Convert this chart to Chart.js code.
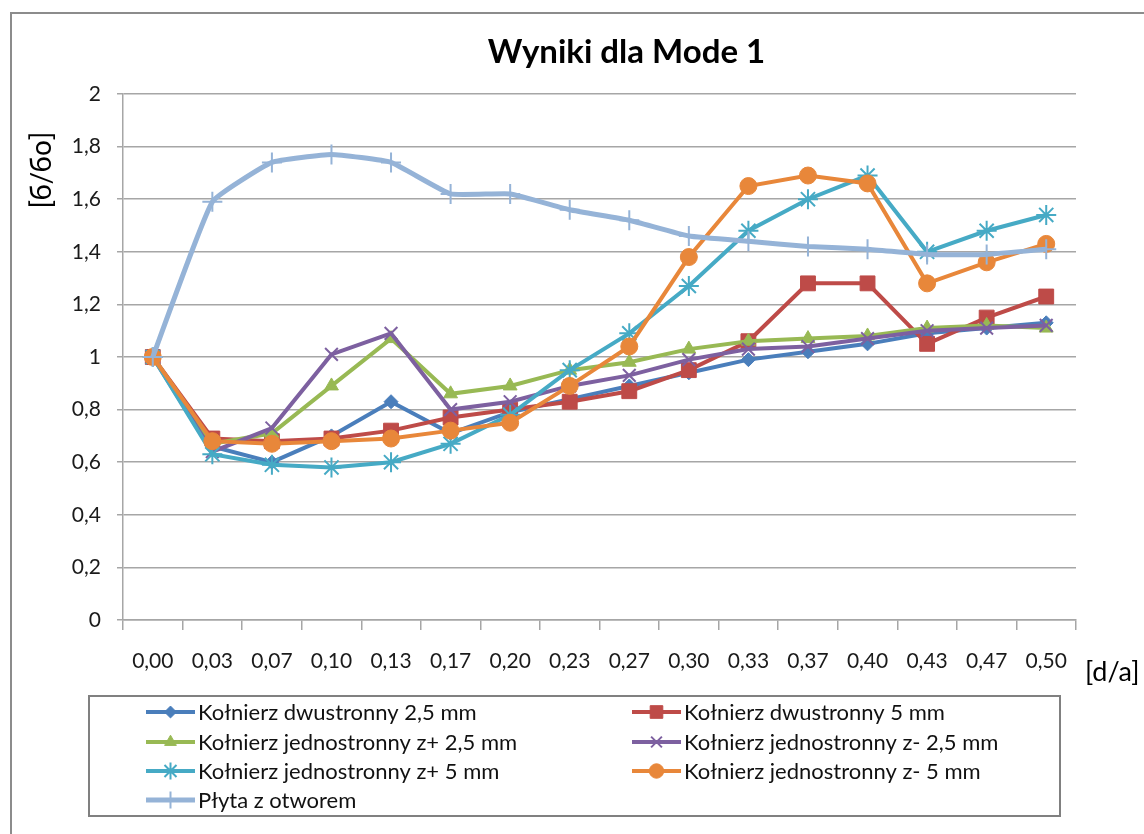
<!DOCTYPE html>
<html lang="pl">
<head>
<meta charset="UTF-8">
<title>Wyniki dla Mode 1</title>
<script src="https://cdn.jsdelivr.net/npm/chart.js"></script>
<style>
  html, body { margin: 0; padding: 0; background: #fff; }
  #wrap { width: 1144px; height: 834px; position: relative; }
</style>
</head>
<body>
<div id="wrap"><canvas id="myChart"></canvas></div>
<script>
// kategorie osi X [d/a]
const labels = ['0,00', '0,03', '0,07', '0,10', '0,13', '0,17', '0,20', '0,23',
                '0,27', '0,30', '0,33', '0,37', '0,40', '0,43', '0,47', '0,50'];

// serie [б/бo]
const dwu25  = [1.00, 0.66, 0.60, 0.70, 0.83, 0.71, 0.79, 0.84, 0.89, 0.94, 0.99, 1.02, 1.05, 1.09, 1.11, 1.13];
const dwu5   = [1.00, 0.69, 0.68, 0.69, 0.72, 0.77, 0.80, 0.83, 0.87, 0.95, 1.06, 1.28, 1.28, 1.05, 1.15, 1.23];
const zp25   = [1.00, 0.67, 0.71, 0.89, 1.07, 0.86, 0.89, 0.95, 0.98, 1.03, 1.06, 1.07, 1.08, 1.11, 1.12, 1.11];
const zm25   = [1.00, 0.64, 0.73, 1.01, 1.09, 0.80, 0.83, 0.89, 0.93, 0.99, 1.03, 1.04, 1.07, 1.10, 1.11, 1.12];
const zp5    = [1.00, 0.63, 0.59, 0.58, 0.60, 0.67, 0.78, 0.95, 1.09, 1.27, 1.48, 1.60, 1.69, 1.40, 1.48, 1.54];
const zm5    = [1.00, 0.68, 0.67, 0.68, 0.69, 0.72, 0.75, 0.89, 1.04, 1.38, 1.65, 1.69, 1.66, 1.28, 1.36, 1.43];
const plyta  = [1.00, 1.59, 1.74, 1.77, 1.74, 1.62, 1.62, 1.56, 1.52, 1.46, 1.44, 1.42, 1.41, 1.39, 1.39, 1.41];

const seriesNames = [
  'Kołnierz dwustronny 2,5 mm',
  'Kołnierz dwustronny 5 mm',
  'Kołnierz jednostronny z+ 2,5 mm',
  'Kołnierz jednostronny z- 2,5 mm',
  'Kołnierz jednostronny z+ 5 mm',
  'Kołnierz jednostronny z- 5 mm',
  'Płyta z otworem'
];
const seriesData = [dwu25, dwu5, zp25, zm25, zp5, zm5, plyta];

const colors  = ['#4a7ebb', '#be4b48', '#98b954', '#7d60a0', '#46aac5', '#e8873a', '#95b3d7'];
const markers = ['rectRot', 'rect', 'triangle', 'crossRot', 'star', 'circle', 'cross'];
const radii   = [7, 10.5, 8, 9, 10, 8.5, 10];

const FONT = 'Lato, "Open Sans", "Liberation Sans", sans-serif';
const GRID = '#a6a6a6';

const datasets = seriesData.map((d, i) => ({
  label: seriesNames[i],
  data: d,
  borderColor: colors[i],
  backgroundColor: colors[i],
  borderWidth: i === 6 ? 5 : 4,
  pointStyle: markers[i],
  pointRadius: radii[i],
  pointBorderWidth: (markers[i] === 'crossRot' || markers[i] === 'star' || markers[i] === 'cross') ? 2 : 1,
  pointBorderColor: colors[i],
  pointBackgroundColor: colors[i],
  tension: i === 6 ? 0.12 : 0,
  order: seriesData.length - i
}));

// tytuły, ramka i legenda (2 kolumny jak w Excelu)
const extras = {
  id: 'extras',
  beforeDraw(chart) {
    const ctx = chart.ctx;
    ctx.save();
    ctx.strokeStyle = '#8c8c8c';
    ctx.lineWidth = 2;
    ctx.strokeRect(11, 13, chart.width + 20, chart.height + 20);
    ctx.restore();
  },
  afterDraw(chart) {
    const ctx = chart.ctx;
    const a = chart.chartArea;
    ctx.save();

    // tytuł
    ctx.fillStyle = '#000';
    ctx.font = 'bold 33px ' + FONT;
    ctx.textAlign = 'center';
    ctx.textBaseline = 'middle';
    ctx.fillText('Wyniki dla Mode 1', (a.left + a.right) / 2 + 27, 52);

    // tytuł osi Y
    ctx.save();
    ctx.translate(42, a.top + 76);
    ctx.rotate(-Math.PI / 2);
    ctx.font = '28px ' + FONT;
    ctx.fillText('[б/бo]', 0, 0);
    ctx.restore();

    // tytuł osi X
    ctx.font = '27px ' + FONT;
    ctx.textAlign = 'left';
    ctx.fillText('[d/a]', a.right + 9, a.bottom + 52);

    // legenda
    const bx = a.left - 34, by = a.bottom + 76, bw = 971, bh = 120;
    ctx.strokeStyle = '#808080';
    ctx.lineWidth = 2;
    ctx.strokeRect(bx, by, bw, bh);
    const colX = [bx + 57, bx + 543];
    const rowY = [by + 16, by + 46, by + 75, by + 104];
    ctx.font = '22px ' + FONT;
    ctx.textBaseline = 'middle';
    chart.data.datasets.forEach((ds, i) => {
      const x = colX[i % 2], y = rowY[Math.floor(i / 2)];
      ctx.strokeStyle = ds.borderColor;
      ctx.lineWidth = ds.borderWidth;
      ctx.beginPath();
      ctx.moveTo(x, y);
      ctx.lineTo(x + 49, y);
      ctx.stroke();
      if (Chart.helpers && Chart.helpers.drawPoint) {
        ctx.fillStyle = ds.pointBackgroundColor;
        ctx.strokeStyle = ds.pointBorderColor;
        ctx.lineWidth = ds.pointBorderWidth;
        Chart.helpers.drawPoint(ctx, {
          pointStyle: ds.pointStyle, radius: ds.pointRadius * 0.85, rotation: 0, borderWidth: ds.pointBorderWidth
        }, x + 24.5, y);
      }
      ctx.fillStyle = '#111';
      ctx.fillText(ds.label, x + 52, y + 1);
    });
    ctx.restore();
  }
};

const ctx = document.getElementById('myChart');
const myChart = new Chart(ctx, {
  type: 'line',
  data: { labels: labels, datasets: datasets },
  options: {
    responsive: true,
    maintainAspectRatio: false,
    animation: false,
    layout: { padding: { top: 94, left: 0, right: 68, bottom: 0 } },
    plugins: {
      legend: { display: false },
      title: { display: false },
      tooltip: { enabled: false }
    },
    scales: {
      x: {
        type: 'category',
        offset: true,
        grid: { offset: true, drawOnChartArea: false, drawTicks: true, tickLength: 10, color: GRID, lineWidth: 1.5 },
        border: { display: true, color: GRID, width: 1.5 },
        ticks: { color: '#1a1a1a', font: { family: FONT, size: 21 }, padding: 19, maxRotation: 0, autoSkip: false },
        afterFit(scale) { scale.height = 214; }
      },
      y: {
        min: 0,
        max: 2,
        ticks: {
          stepSize: 0.2,
          color: '#1a1a1a',
          font: { family: FONT, size: 21 },
          padding: 16,
          callback: v => Number(v.toFixed(1)).toString().replace('.', ',')
        },
        grid: { color: GRID, lineWidth: 1.5, tickLength: 6 },
        border: { display: true, color: GRID, width: 1.5 },
        afterFit(scale) { scale.width = 123; }
      }
    }
  },
  plugins: [extras]
});
</script>
</body>
</html>
